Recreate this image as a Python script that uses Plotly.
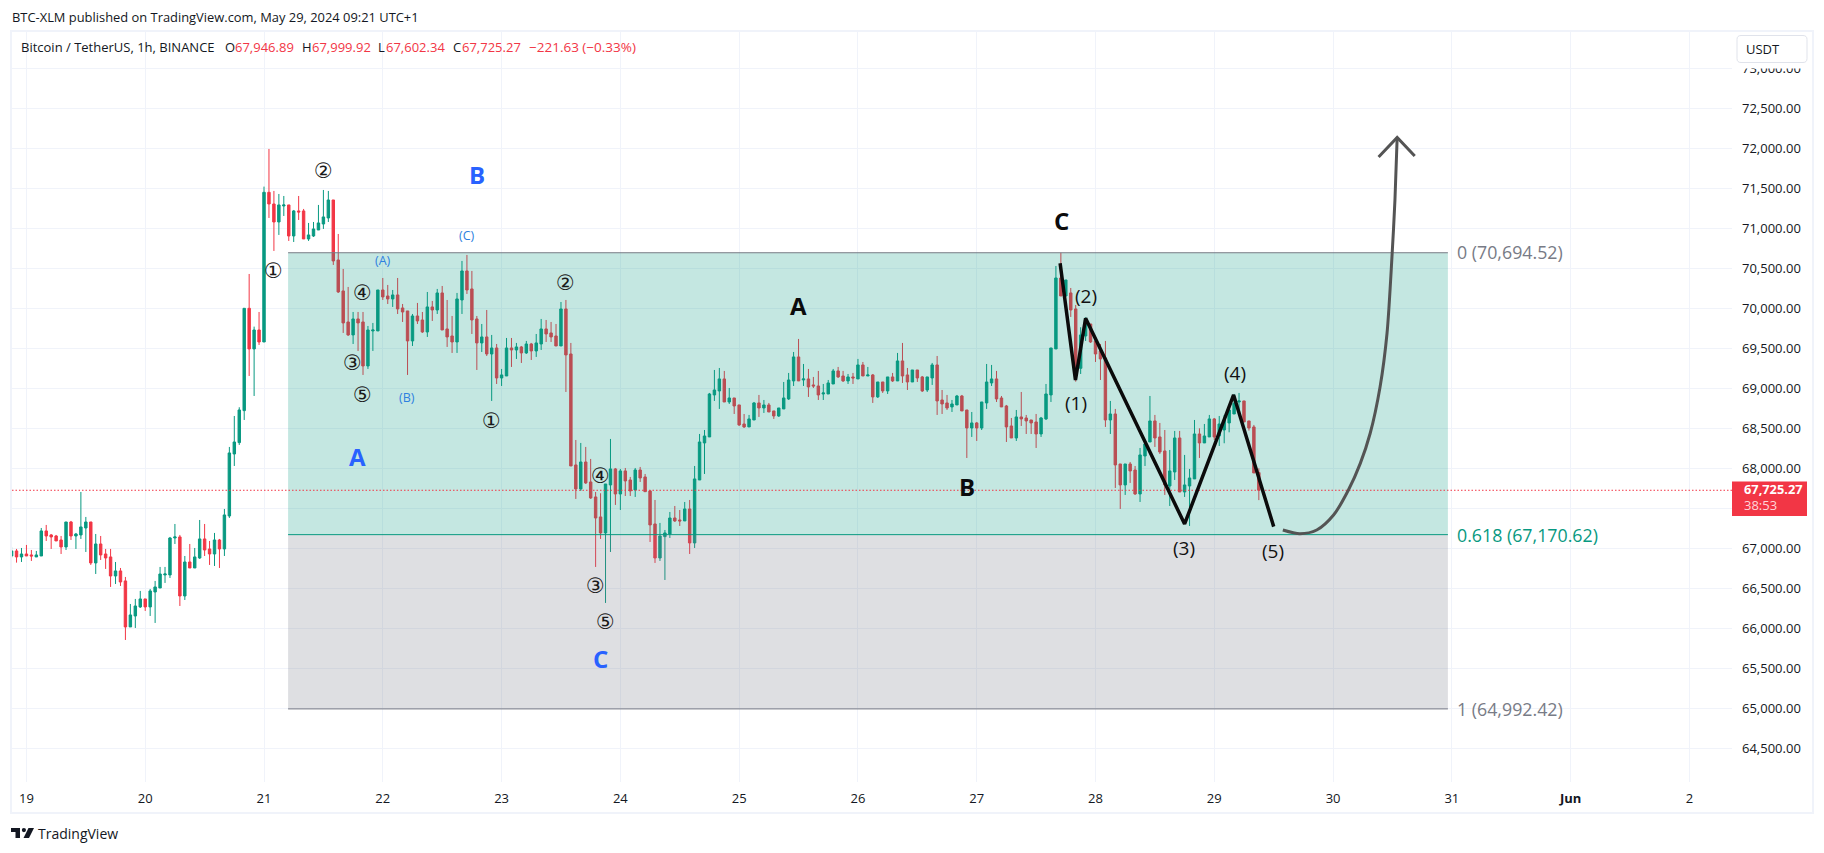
import pandas as pd
import plotly.graph_objects as go

# ---------- data ----------
candle_start = "2024-05-18 21:00"

open_ = [
66904,66967,66892,66929,66917,66892,66904,67217,67167,67154,
67104,67017,67329,67154,67167,67254,67329,66817,67054,66929,
66892,66654,66717,66592,66017,66154,66267,66367,66267,66454,
66504,66667,66667,67129,67142,66404,66829,66754,66879,67117,
66992,66929,67104,66992,67404,68179,68321,68721,70000,69492,
69729,69579,71450,71304,71079,71279,71292,70904,71217,71217,
70867,70904,70979,71054,71129,71354,70604,70217,69829,69667,
69867,69829,69279,69717,69717,70229,70154,70117,70167,70004,
69967,69592,69904,69854,69704,70017,69979,70192,69742,69654,
69579,70104,70467,70242,69867,69567,69642,69429,69504,69129,
69154,69504,69479,69517,69442,69554,69467,69554,69742,69692,
69654,69529,69992,69429,68042,67742,68079,67829,67642,67392,
67192,67792,67992,67679,67967,67854,67729,67979,67892,67717,
67304,66879,67146,67179,67379,67354,67342,67492,67067,67854,
68317,68392,68917,68967,69117,68829,68879,68792,68554,68517,
68604,68817,68754,68792,68717,68654,68742,68867,69092,69392,
69104,69117,69042,69029,68929,68929,69054,69217,69154,69092,
69142,69117,69292,69154,69167,68892,69079,68967,69142,69092,
69342,69167,69079,69229,69142,68979,69129,69292,68854,68817,
68767,68792,68904,68729,68504,68567,68504,68817,69067,69117,
68879,68779,68529,68379,68642,68629,68604,68579,68429,68617,
68917,69492,70379,70154,70192,69992,69250,69654,69804,69592,
69467,69379,68604,68679,68054,67792,68054,67979,67679,68154,
68329,68592,68392,68217,67779,67954,68379,67704,67779,67867,
68429,68317,68392,68617,68404,68479,68567,68679,68829,68842,
68592,68517,67946.89]

high = [
67017,66992,67004,67042,66979,66967,67254,67292,67179,67167,
67154,67329,67342,67192,67704,67392,67329,67179,67154,66992,
66992,66829,66754,66642,66304,66367,66467,66367,66492,66592,
66767,66767,67142,67304,67167,66904,67054,67004,67354,67304,
67092,67192,67117,67492,68267,68654,68763,70000,70429,69771,
69954,71521,71992,71467,71429,71404,71292,71229,71404,71242,
71067,71079,71292,71479,71467,71354,70929,70492,70267,69954,
69954,69954,69779,69817,70229,70379,70292,70229,70379,70054,
69967,69929,70067,69954,70204,70092,70242,70279,70104,69904,
70192,70592,70667,70467,69904,69804,69979,69667,69554,69242,
69629,69629,69567,69529,69592,69567,69679,69867,69854,69829,
69804,70079,70104,69567,68354,68317,68267,68117,67704,67688,
67804,68367,68004,67992,68004,67892,68004,68017,67929,67729,
67604,67317,67229,67454,67529,67479,67579,67604,68029,68429,
68479,68942,69229,69254,69217,69004,68879,68792,68679,68667,
68829,68917,68854,68817,68717,68754,69079,69192,69454,69617,
69304,69242,69142,69217,69054,69104,69242,69267,69217,69179,
69192,69367,69329,69267,69179,69079,69079,69142,69192,69442,
69567,69254,69229,69229,69154,69142,69317,69404,68979,68917,
68854,68917,68917,68729,68704,68579,68829,69304,69292,69217,
68904,68792,68629,68729,68954,68667,68604,68679,68642,69054,
69504,70529,70694,70354,70254,70042,69763,69888,69804,69604,
69554,69592,68842,68742,68054,68054,68079,68029,68254,68354,
68904,68667,68567,68479,68229,68467,68467,68167,67992,68604,
68500,68554,68667,68629,68654,68667,68792,68929,68942,68842,
68592,68542,67999.92]

low = [
66879,66821,66829,66904,66842,66892,66904,67092,66992,67092,
66929,66979,67104,66992,67117,66954,66792,66679,66854,66742,
66517,66554,66529,65854,66017,66004,66254,66217,66154,66067,
66504,66567,66629,67054,66279,66354,66754,66754,66867,66904,
66792,66779,66754,66904,67379,68029,68292,68604,69154,68904,
69542,69579,71129,70717,70917,71154,70842,70829,71104,70867,
70842,70892,70979,70992,71079,70542,70192,69692,69654,69554,
69467,69167,69242,69467,69717,70104,70054,70017,69929,69829,
69167,69529,69804,69692,69642,69842,69929,69729,69517,69442,
69442,69929,70179,69679,69229,69454,69404,68842,69054,69029,
69154,69267,69367,69317,69429,69354,69392,69479,69579,69579,
69529,69529,68954,68029,67617,67717,67804,67617,66767,67117,
66317,66954,67542,67479,67654,67654,67642,67829,67704,67079,
66817,66842,66604,67129,67329,67279,67342,66929,67004,67854,
67929,68392,68842,68742,68829,68804,68679,68529,68504,68517,
68604,68642,68692,68704,68617,68642,68742,68854,69029,69092,
69029,68892,69004,68854,68854,68929,69054,69129,69079,69054,
69054,69117,69154,69154,68817,68879,68942,68929,69079,69092,
69067,68979,69079,69079,68954,68954,69042,68667,68679,68729,
68704,68792,68717,68129,68392,68342,68479,68742,69029,68829,
68767,68329,68379,68342,68529,68429,68429,68254,68392,68604,
68829,69492,70154,70154,69892,69083,69179,69592,69567,69329,
69104,68517,68429,67754,67492,67667,67817,67667,67579,68029,
68329,68267,68179,67667,67529,67854,67704,67642,67279,67867,
68129,68317,68392,68354,68279,68313,68450,68679,68729,68579,
68471,67942,67602.34]

close = [
66967,66892,66929,66904,66904,66917,67217,67154,67142,67092,
67017,67329,67154,67179,67267,67329,66817,67054,66917,66879,
66654,66717,66579,66017,66167,66279,66367,66267,66467,66517,
66679,66679,67129,67142,66404,66829,66754,66892,67117,66979,
66929,67104,66992,67417,68192,68329,68729,70000,69492,69729,
69579,71450,71304,71079,71292,71292,70904,71217,71204,70867,
70917,70992,71067,71142,71354,70592,70204,69817,69667,69867,
69817,69279,69729,69729,70229,70142,70117,70167,69992,69954,
69592,69904,69842,69704,70017,69979,70192,69729,69642,69579,
70117,70467,70229,69854,69567,69642,69429,69504,69129,69167,
69504,69479,69517,69442,69554,69467,69567,69742,69679,69642,
69529,69992,69417,68029,67742,68079,67817,67629,67379,67192,
67804,67992,67679,67967,67842,67717,67979,67879,67708,67292,
66879,67154,67192,67379,67342,67342,67492,67067,67867,68329,
68404,68929,68979,69117,68829,68879,68779,68542,68517,68617,
68817,68754,68792,68704,68654,68754,68879,69104,69392,69092,
69117,69017,69029,68917,68942,69067,69217,69142,69092,69142,
69129,69292,69154,69167,68892,69079,68967,69142,69092,69342,
69154,69079,69229,69129,68967,69142,69292,68842,68804,68754,
68804,68904,68717,68504,68567,68504,68829,69079,69117,68867,
68767,68517,68379,68642,68617,68592,68567,68429,68629,68929,
69504,70379,70154,70354,69979,69250,69667,69854,69579,69429,
69367,68604,68679,68042,67792,68054,67967,67679,68167,68304,
68592,68379,68204,67792,67967,68379,67704,67792,67879,68429,
68317,68404,68617,68392,68554,68604,68729,68813,68842,68579,
68504,67942,67725.27]

last_price = 67725.27
fib_levels = [70694.52, 67170.62, 64992.42]
fib_start = "2024-05-21 04:52"
fib_end = "2024-05-30 23:12"

wave_times = ["2024-05-27 16:51", "2024-05-27 19:57", "2024-05-27 22:00",
              "2024-05-28 18:00", "2024-05-29 03:54", "2024-05-29 12:00"]
wave_prices = [70562, 69104, 69875, 67304, 68917, 67271]

curve_times = ["2024-05-29 13:51", "2024-05-29 17:18", "2024-05-29 20:42", "2024-05-30 00:06",
               "2024-05-30 03:06", "2024-05-30 05:30", "2024-05-30 07:30", "2024-05-30 09:30",
               "2024-05-30 10:54", "2024-05-30 11:54", "2024-05-30 12:30", "2024-05-30 12:57"]
curve_prices = [67229, 67183, 67229, 67416, 67729, 68062, 68438, 69020, 69688, 70645, 71354, 72135]
head_times = ["2024-05-30 09:12", "2024-05-30 12:57", "2024-05-30 16:30"]
head_prices = [71891, 72135, 71904]

day_ticks = ["2024-05-%02d" % d for d in range(19, 32)] + ["2024-06-01", "2024-06-02"]
day_labels = [str(d) for d in range(19, 32)] + ["<b>Jun</b>", "2"]
price_ticks = [64500, 65000, 65500, 66000, 66500, 67000, 67500, 68000, 68500,
               69000, 69500, 70000, 70500, 71000, 71500, 72000, 72500, 73000]
# the 67,500.00 label sits behind the price tag in the reference, so only its grid line shows
price_labels = ["64,500.00", "65,000.00", "65,500.00", "66,000.00", "66,500.00", "67,000.00", "",
                "68,000.00", "68,500.00", "69,000.00", "69,500.00", "70,000.00", "70,500.00",
                "71,000.00", "71,500.00", "72,000.00", "72,500.00", "73,000.00"]
x_range = ["2024-05-18 21:05", "2024-06-02 08:36"]
y_range = [64078.75, 73453.75]

# ---------- styling ----------
GREEN, RED = "#089981", "#f23645"
INK = "#131722"
GREY = "#787b86"
BLUE = "#2962ff"
GRID = "#f0f3fa"
FONT = "Open Sans, sans-serif"
L, R, T, B = 12, 1732, 32, 782


def px(x):
    return (x - L) / (R - L)


def py(y):
    return 1 - (y - T) / (B - T)


times = pd.date_range(candle_start, periods=len(close), freq="h")

fig = go.Figure()
fig.add_trace(go.Candlestick(
    x=times, open=open_, high=high, low=low, close=close,
    increasing=dict(line=dict(color=GREEN, width=1), fillcolor=GREEN),
    decreasing=dict(line=dict(color=RED, width=1), fillcolor=RED),
    whiskerwidth=0, hoverinfo="skip", showlegend=False))

# fib zones lie over the candles
bands = [(fib_levels[0], fib_levels[1], "rgba(8,153,129,0.24)"),
         (fib_levels[1], fib_levels[2], "rgba(120,123,134,0.245)")]
for top, bot, col in bands:
    fig.add_trace(go.Scatter(
        x=[fib_start, fib_end, fib_end, fib_start, fib_start],
        y=[top, top, bot, bot, top], mode="none", fill="toself",
        fillcolor=col, hoverinfo="skip", showlegend=False))
for lvl, col in zip(fib_levels, [GREY, GREEN, GREY]):
    fig.add_trace(go.Scatter(x=[fib_start, fib_end], y=[lvl, lvl], mode="lines",
                             line=dict(color=col, width=1), hoverinfo="skip", showlegend=False))

fig.add_trace(go.Scatter(x=x_range, y=[last_price, last_price], mode="lines",
                         line=dict(color=RED, width=1, dash="1.5px,2px"),
                         hoverinfo="skip", showlegend=False))
fig.add_trace(go.Scatter(x=wave_times, y=wave_prices, mode="lines",
                         line=dict(color="#0b0b0b", width=3.5), hoverinfo="skip", showlegend=False))
fig.add_trace(go.Scatter(x=curve_times, y=curve_prices, mode="lines",
                         line=dict(color="#545454", width=3, shape="spline", smoothing=0.8),
                         hoverinfo="skip", showlegend=False))
fig.add_trace(go.Scatter(x=head_times, y=head_prices, mode="lines",
                         line=dict(color="#545454", width=3), hoverinfo="skip", showlegend=False))

anns = []


def text(s, x, y, size, color=INK, anchor="center", family=FONT):
    anns.append(dict(text=s, x=px(x), y=py(y), xref="paper", yref="paper", showarrow=False,
                     xanchor=anchor, yanchor="middle", align="left" if anchor == "left" else "center",
                     font=dict(size=size, color=color, family=family)))


# header + legend row
text("BTC-XLM published on TradingView.com, May 29, 2024 09:21 UTC+1", 10, 17.5, 12.9, anchor="left")
text("Bitcoin / TetherUS, 1h, BINANCE", 19, 47, 13, anchor="left")
for lab, val, xl, xv in [("O", "67,946.89", 223, 232.5), ("H", "67,999.92", 299.5, 309.5),
                         ("L", "67,602.34", 376, 383.5), ("C", "67,725.27", 450.7, 459.5)]:
    text(lab, xl, 47, 13, anchor="left")
    text(val, xv, 47, 13, color=RED, anchor="left")
text("\u2212221.63 (\u22120.33%)", 526.7, 47, 13.5, color=RED, anchor="left")

# fib labels
text("0 (70,694.52)", 1455, 252, 17.8, color=GREY, anchor="left")
text("0.618 (67,170.62)", 1455, 534.5, 17.8, color=GREEN, anchor="left")
text("1 (64,992.42)", 1455, 708.5, 17.8, color=GREY, anchor="left")

# circled waves
DJ = "DejaVu Sans, sans-serif"
for s, x, y in [("\u2461", 323.3, 171.3), ("\u2460", 273.3, 270.7), ("\u2463", 362.7, 293.3),
                ("\u2462", 352.3, 363.3), ("\u2464", 362.7, 394.7), ("\u2460", 491.3, 420.7),
                ("\u2461", 565.3, 283.3), ("\u2463", 600.7, 475.7), ("\u2462", 595.7, 586),
                ("\u2464", 605, 622.4)]:
    text(s, x, y, 21, color="#1a1a1a", family=DJ)

for s, x, y in [("(A)", 382.7, 260.7), ("(B)", 407.3, 397.3), ("(C)", 466.5, 235.3)]:
    text(s, x, y, 12.5, color="#2e7fe0")
for s, x, y in [("A", 357.5, 456), ("B", 476.5, 174.7), ("C", 600.3, 658.4)]:
    text("<b>%s</b>" % s, x, y, 24, color=BLUE)
for s, x, y in [("A", 798.7, 305), ("B", 966.7, 486.7), ("C", 1061.3, 220.7)]:
    text("<b>%s</b>" % s, x, y, 24, color="#0b0b0b")
for s, x, y in [("(1)", 1075.7, 402.7), ("(2)", 1085.7, 296), ("(3)", 1184.3, 547.7),
                ("(4)", 1234.7, 373), ("(5)", 1273.3, 550.7)]:
    text(s, x, y, 19, color="#111111")

# price tag
text("<b>67,725.27</b>", 1742, 489, 12.8, color="#ffffff", anchor="left")
text("38:53", 1742, 505, 13, color="#ffd5d9", anchor="left")
text("USDT", 1762.7, 49, 13, anchor="center")
text("TradingView", 36, 833, 14, anchor="left")

shapes = [
    # pane frame
    dict(type="rect", xref="paper", yref="paper", x0=px(11), x1=px(1813), y0=py(813), y1=py(31),
         line=dict(color=GRID, width=2), layer="below"),
    # currency button mask + rounded button
    dict(type="rect", xref="paper", yref="paper", x0=px(1733), x1=px(1811), y0=py(68.5), y1=py(33),
         fillcolor="#ffffff", line=dict(width=0), layer="above"),
    dict(type="path", xref="paper", yref="paper",
         path="M %f %f L %f %f Q %f %f %f %f L %f %f Q %f %f %f %f L %f %f Q %f %f %f %f L %f %f Q %f %f %f %f Z" % (
             px(1741), py(35.5), px(1803), py(35.5), px(1807), py(35.5), px(1807), py(39.5),
             px(1807), py(58.5), px(1807), py(62.5), px(1803), py(62.5),
             px(1741), py(62.5), px(1737), py(62.5), px(1737), py(58.5),
             px(1737), py(39.5), px(1737), py(35.5), px(1741), py(35.5)),
         fillcolor="#ffffff", line=dict(color="#e0e3eb", width=1), layer="above"),
    # price tag
    dict(type="rect", xref="paper", yref="paper", x0=px(1732), x1=px(1807), y0=py(516), y1=py(481.5),
         fillcolor=RED, line=dict(width=0), layer="above"),
    # TradingView mark
    dict(type="path", xref="paper", yref="paper",
         path="M %f %f L %f %f L %f %f L %f %f L %f %f L %f %f Z" % (
             px(11), py(828), px(20), py(828), px(20), py(838), px(15.5), py(838), px(15.5), py(832), px(11), py(832)),
         fillcolor=INK, line=dict(width=0)),
    dict(type="circle", xref="paper", yref="paper", x0=px(21.8), x1=px(26), y0=py(832.2), y1=py(828),
         fillcolor=INK, line=dict(width=0)),
    dict(type="path", xref="paper", yref="paper",
         path="M %f %f L %f %f L %f %f L %f %f Z" % (
             px(28.5), py(828), px(34), py(828), px(29), py(838), px(23.5), py(838)),
         fillcolor=INK, line=dict(width=0)),
]

fig.update_layout(
    width=1824, height=853, autosize=False,
    margin=dict(l=L, r=1824 - R, t=T, b=853 - B, pad=0),
    paper_bgcolor="#ffffff", plot_bgcolor="#ffffff",
    showlegend=False, hovermode=False, dragmode=False,
    annotations=anns, shapes=shapes,
    xaxis=dict(type="date", range=x_range, rangeslider=dict(visible=False),
               tickmode="array", tickvals=day_ticks, ticktext=day_labels,
               showgrid=True, gridcolor=GRID, gridwidth=1, zeroline=False, showline=False,
               ticks="", ticklabelstandoff=7, tickangle=0,
               tickfont=dict(family=FONT, size=13, color=INK)),
    yaxis=dict(side="right", range=y_range, tickmode="array", tickvals=price_ticks, ticktext=price_labels,
               showgrid=True, gridcolor=GRID, gridwidth=1, zeroline=False, showline=False,
               ticks="", ticklabelstandoff=9,
               tickfont=dict(family=FONT, size=13, color=INK)),
)

fig.write_html("out.html", config=dict(displayModeBar=False),
               post_script="document.body.style.margin='0';")
